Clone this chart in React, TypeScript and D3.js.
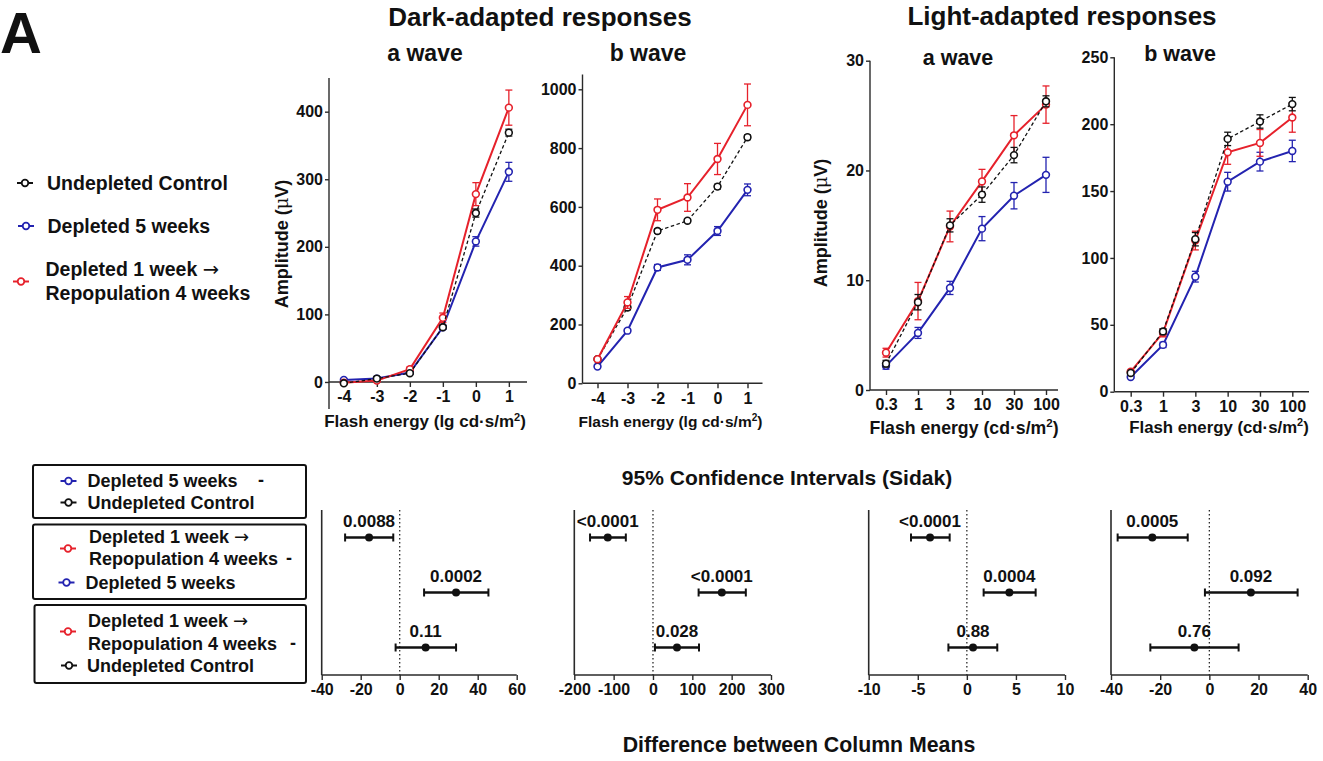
import React, { useEffect, useRef } from "react";
import * as d3 from "d3";

const FONT = "'Liberation Sans', Arial, Helvetica, sans-serif";
const RED = "#e6212b";
const BLUE = "#2323b0";
const INK = "#111111";
const AXIS = "#2a2a2a";

// flash energies on the x axes
const darkEnergy = [-4, -3, -2, -1, 0, 1];
const lightEnergy = ["0.3", "1", "3", "10", "30", "100"];

// dark-adapted a wave, mean and SEM (uV)
const darkA_control = [-2, 5, 13, 81, 250, 369];
const darkA_controlSem = [2, 2, 2, 3, 6, 5];
const darkA_depleted = [3, 5, 14, 81, 208, 311];
const darkA_depletedSem = [2, 2, 2, 3, 7, 14];
const darkA_repop = [-1, 2, 19, 95, 278, 406];
const darkA_repopSem = [2, 2, 3, 7, 17, 26];

// dark-adapted b wave
const darkB_control = [82, 258, 518, 553, 669, 837];
const darkB_controlSem = [6, 8, 8, 6, 8, 8];
const darkB_depleted = [57, 179, 394, 420, 518, 658];
const darkB_depletedSem = [5, 6, 10, 17, 15, 20];
const darkB_repop = [82, 275, 590, 632, 763, 947];
const darkB_repopSem = [6, 20, 37, 47, 53, 71];

// light-adapted a wave
const lightA_control = [2.4, 8.0, 15.0, 17.8, 21.4, 26.3];
const lightA_controlSem = [0.3, 0.7, 0.6, 0.7, 0.7, 0.5];
const lightA_depleted = [2.2, 5.2, 9.3, 14.7, 17.7, 19.6];
const lightA_depletedSem = [0.3, 0.5, 0.6, 1.1, 1.2, 1.6];
const lightA_repop = [3.4, 8.1, 14.9, 19.0, 23.2, 26.0];
const lightA_repopSem = [0.4, 1.7, 1.4, 1.1, 1.8, 1.7];

// light-adapted b wave
const lightB_control = [14, 45, 114, 189, 202, 215];
const lightB_controlSem = [1, 2, 5, 5, 5, 5];
const lightB_depleted = [11, 35, 86, 157, 172, 180];
const lightB_depletedSem = [1, 2, 4, 7, 7, 8];
const lightB_repop = [15, 44, 113, 179, 186, 205];
const lightB_repopSem = [1, 3, 7, 9, 10, 11];

// Sidak 95% CI of the differences, rows: 5wk-ctrl, repop-5wk, repop-ctrl
const ciDarkA_mean = [-15.7, 28.9, 13.3];
const ciDarkA_low = [-28, 12.5, -2.1];
const ciDarkA_high = [-3.3, 45.5, 28.9];
const ciDarkA_p = ["0.0088", "0.0002", "0.11"];

const ciDarkB_mean = [-115, 175, 61];
const ciDarkB_low = [-160, 116, 5];
const ciDarkB_high = [-69, 236, 117];
const ciDarkB_p = ["<0.0001", "<0.0001", "0.028"];

const ciLightA_mean = [-3.75, 4.33, 0.63];
const ciLightA_low = [-5.69, 1.71, -1.88];
const ciLightA_high = [-1.75, 7.01, 3.1];
const ciLightA_p = ["<0.0001", "0.0004", "0.88"];

const ciLightB_mean = [-23.2, 16.9, -6.1];
const ciLightB_low = [-37.3, -1.8, -24];
const ciLightB_high = [-8.8, 35.9, 11.9];
const ciLightB_p = ["0.0005", "0.092", "0.76"];

type Sel = d3.Selection<any, any, any, any>;
type Series = { values: number[]; sem: number[]; color: string; dashed?: boolean };

function txt(g: Sel, x: number, y: number, s: string, size: number, anchor = "middle") {
  return g
    .append("text")
    .attr("x", x)
    .attr("y", y)
    .attr("dy", "0.35em")
    .attr("text-anchor", anchor)
    .attr("font-family", FONT)
    .attr("font-weight", "bold")
    .attr("font-size", size)
    .attr("fill", INK)
    .text(s);
}

// "Depleted 1 week →" with the arrow taken from DejaVu (Liberation's is tiny)
function arrowTxt(g: Sel, x: number, y: number, size: number) {
  const t = txt(g, x, y, "", size, "start");
  t.append("tspan").text("Depleted 1 week ");
  t.append("tspan").attr("font-family", "'DejaVu Sans', sans-serif").attr("font-weight", "normal").text("→");
  return t;
}

// little line+open circle glyph used in the legends
function marker(g: Sel, cx: number, cy: number, color: string) {
  g.append("line")
    .attr("x1", cx - 8).attr("x2", cx + 8).attr("y1", cy).attr("y2", cy)
    .attr("stroke", color).attr("stroke-width", 2);
  g.append("circle")
    .attr("cx", cx).attr("cy", cy).attr("r", 3.3)
    .attr("fill", "#fff").attr("stroke", color).attr("stroke-width", 1.8);
}

function styleAxis(a: Sel, size: number) {
  a.select(".domain").remove();
  a.selectAll(".tick line").attr("stroke", AXIS).attr("stroke-width", 1.4);
  a.selectAll(".tick text")
    .attr("font-family", FONT)
    .attr("font-weight", "bold")
    .attr("font-size", size)
    .attr("fill", INK);
}

function linePanel(
  svg: Sel,
  xScale: any,
  xs: any[],
  xLine: [number, number],
  yScale: d3.ScaleLinear<number, number>,
  yTicks: number[],
  yLine: [number, number],
  series: Series[]
) {
  const g = svg.append("g");
  const y0 = yScale(0);

  g.append("line")
    .attr("x1", xLine[0]).attr("x2", xLine[0])
    .attr("y1", yScale(yLine[0])).attr("y2", yScale(yLine[1]))
    .attr("stroke", AXIS).attr("stroke-width", 1.4);
  g.append("line")
    .attr("x1", xLine[0]).attr("x2", xLine[1])
    .attr("y1", y0).attr("y2", y0)
    .attr("stroke", AXIS).attr("stroke-width", 1.4);

  g.append("g")
    .attr("transform", `translate(${xLine[0]},0)`)
    .call(d3.axisLeft(yScale).tickValues(yTicks).tickSize(4).tickPadding(2).tickFormat((d: any) => String(d)))
    .call((a: Sel) => styleAxis(a, 16));

  const xAxis = d3.axisBottom(xScale).tickSize(5).tickPadding(4).tickFormat((d: any) => String(d));
  if (xScale.ticks) (xAxis as any).tickValues(xs);
  g.append("g")
    .attr("transform", `translate(0,${y0})`)
    .call(xAxis as any)
    .call((a: Sel) => styleAxis(a, 16));

  const px = (i: number) => xScale(xs[i]);

  series.forEach((s) => {
    const line = d3
      .line<number>()
      .x((_, i) => px(i))
      .y((d) => yScale(d));
    g.append("path")
      .datum(s.values)
      .attr("d", line)
      .attr("fill", "none")
      .attr("stroke", s.dashed ? INK : s.color)
      .attr("stroke-width", s.dashed ? 1.3 : 2)
      .attr("stroke-dasharray", s.dashed ? "3.5,2.5" : null);

    const eb = g.append("g").attr("stroke", s.color).attr("stroke-width", 1.3);
    s.values.forEach((v, i) => {
      const x = px(i);
      const t = yScale(v + s.sem[i]);
      const b = yScale(v - s.sem[i]);
      eb.append("line").attr("x1", x).attr("x2", x).attr("y1", t).attr("y2", b);
      eb.append("line").attr("x1", x - 3.5).attr("x2", x + 3.5).attr("y1", t).attr("y2", t);
      eb.append("line").attr("x1", x - 3.5).attr("x2", x + 3.5).attr("y1", b).attr("y2", b);
    });

    g.append("g")
      .selectAll("circle")
      .data(s.values)
      .join("circle")
      .attr("cx", (_, i) => px(i))
      .attr("cy", (d) => yScale(d))
      .attr("r", 3.4)
      .attr("fill", "#fff")
      .attr("stroke", s.color)
      .attr("stroke-width", 1.6);
  });
}

function ciPanel(
  svg: Sel,
  xScale: d3.ScaleLinear<number, number>,
  xTicks: number[],
  mean: number[],
  low: number[],
  high: number[],
  p: string[]
) {
  const g = svg.append("g");
  const rows = d3.scaleBand<number>().domain([0, 1, 2]).range([510, 675]);
  const [x0, x1] = xScale.range();
  const yb = 675;

  g.append("line").attr("x1", x0).attr("x2", x0).attr("y1", 510).attr("y2", yb)
    .attr("stroke", AXIS).attr("stroke-width", 1.6);
  g.append("line").attr("x1", x0).attr("x2", x1).attr("y1", yb).attr("y2", yb)
    .attr("stroke", AXIS).attr("stroke-width", 1.6);
  g.append("line").attr("x1", xScale(0)).attr("x2", xScale(0)).attr("y1", 510).attr("y2", yb)
    .attr("stroke", AXIS).attr("stroke-width", 1.3).attr("stroke-dasharray", "1.5,2.5");

  g.append("g")
    .attr("transform", `translate(0,${yb})`)
    .call(d3.axisBottom(xScale).tickValues(xTicks).tickSize(5).tickPadding(4).tickFormat((d: any) => String(d)))
    .call((a: Sel) => styleAxis(a, 16));

  mean.forEach((m, i) => {
    const y = (rows(i) as number) + rows.bandwidth() / 2;
    g.append("line").attr("x1", xScale(low[i])).attr("x2", xScale(high[i])).attr("y1", y).attr("y2", y)
      .attr("stroke", INK).attr("stroke-width", 2.5);
    [low[i], high[i]].forEach((v) =>
      g.append("line").attr("x1", xScale(v)).attr("x2", xScale(v)).attr("y1", y - 4).attr("y2", y + 4)
        .attr("stroke", INK).attr("stroke-width", 2)
    );
    g.append("circle").attr("cx", xScale(m)).attr("cy", y).attr("r", 4).attr("fill", INK);
    txt(g, xScale(m), y - 16, p[i], 17);
  });
}

function flashLabel(svg: Sel, x: number, y: number, lg: boolean, size: number) {
  const t = txt(svg, x, y, "", size);
  t.append("tspan").text(lg ? "Flash energy (lg cd·s/m" : "Flash energy (cd·s/m");
  t.append("tspan").attr("font-size", size * 0.65).attr("dy", -size * 0.4).text("2");
  t.append("tspan").attr("dy", size * 0.4).text(")");
}

function ampLabel(svg: Sel, x: number, y: number) {
  const t = txt(svg, 0, 0, "", 18).attr("transform", `translate(${x},${y}) rotate(-90)`);
  t.append("tspan").text("Amplitude (");
  t.append("tspan").attr("font-weight", "normal").attr("font-family", "'DejaVu Serif', serif").text("μ");
  t.append("tspan").text("V)");
}

export default function App() {
  const svgRef = useRef<SVGSVGElement>(null);

  useEffect(() => {
    const svg = d3.select(svgRef.current);
    svg.selectAll("*").remove();

    // titles
    svg.append("text").attr("x", 0).attr("y", 53).attr("font-family", FONT)
      .attr("font-weight", "bold").attr("font-size", 58).attr("fill", INK).text("A");
    txt(svg, 540, 17, "Dark-adapted responses", 26);
    txt(svg, 1062, 16, "Light-adapted responses", 26);
    txt(svg, 425, 53, "a wave", 23);
    txt(svg, 648, 53, "b wave", 23);
    txt(svg, 958, 57, "a wave", 21.5);
    txt(svg, 1180, 53, "b wave", 21.5);

    // top legend
    const leg = svg.append("g");
    marker(leg, 25, 183, INK);
    txt(leg, 47, 183, "Undepleted Control", 19.5, "start");
    marker(leg, 26, 226, BLUE);
    txt(leg, 47.5, 226, "Depleted 5 weeks", 19.5, "start");
    marker(leg, 21, 281.5, RED);
    arrowTxt(leg, 45.5, 269, 19.5);
    txt(leg, 45.5, 293, "Repopulation 4 weeks", 19.5, "start");

    // dark a wave
    const x1 = d3.scaleLinear().domain([-4.45, 1.55]).range([329, 527]);
    const y1 = d3.scaleLinear().domain([-40, 450]).range([409, 77.9]);
    linePanel(svg, x1, darkEnergy, [329, 527], y1, [0, 100, 200, 300, 400], [-40, 450], [
      { values: darkA_depleted, sem: darkA_depletedSem, color: BLUE },
      { values: darkA_repop, sem: darkA_repopSem, color: RED },
      { values: darkA_control, sem: darkA_controlSem, color: INK, dashed: true },
    ]);
    ampLabel(svg, 282, 244);
    flashLabel(svg, 425, 421.5, true, 17);

    // dark b wave
    const x2 = d3.scaleLinear().domain([-4.5, 1.5]).range([582.5, 762.5]);
    const y2 = d3.scaleLinear().domain([0, 1050]).range([383.3, 74.6]);
    linePanel(svg, x2, darkEnergy, [582.5, 762.5], y2, [0, 200, 400, 600, 800, 1000], [0, 1050], [
      { values: darkB_depleted, sem: darkB_depletedSem, color: BLUE },
      { values: darkB_control, sem: darkB_controlSem, color: INK, dashed: true },
      { values: darkB_repop, sem: darkB_repopSem, color: RED },
    ]);
    flashLabel(svg, 670.5, 421.5, true, 15.5);

    // light a wave
    const x3 = d3.scalePoint<string>().domain(lightEnergy).range([886, 1046]);
    const y3 = d3.scaleLinear().domain([0, 30]).range([390, 60.7]);
    linePanel(svg, x3, lightEnergy, [870, 1058], y3, [0, 10, 20, 30], [0, 30], [
      { values: lightA_depleted, sem: lightA_depletedSem, color: BLUE },
      { values: lightA_repop, sem: lightA_repopSem, color: RED },
      { values: lightA_control, sem: lightA_controlSem, color: INK, dashed: true },
    ]);
    ampLabel(svg, 821, 223);
    flashLabel(svg, 964, 428, false, 17.7);

    // light b wave
    const x4 = d3.scalePoint<string>().domain(lightEnergy).range([1130.7, 1292.3]);
    const y4 = d3.scaleLinear().domain([0, 250]).range([391.7, 57.3]);
    linePanel(svg, x4, lightEnergy, [1114.3, 1309], y4, [0, 50, 100, 150, 200, 250], [0, 250], [
      { values: lightB_depleted, sem: lightB_depletedSem, color: BLUE },
      { values: lightB_repop, sem: lightB_repopSem, color: RED },
      { values: lightB_control, sem: lightB_controlSem, color: INK, dashed: true },
    ]);
    flashLabel(svg, 1219, 427, false, 16.8);

    // confidence interval panels
    txt(svg, 787, 478, "95% Confidence Intervals (Sidak)", 21);
    txt(svg, 799, 745, "Difference between Column Means", 21.3);
    ciPanel(svg, d3.scaleLinear().domain([-40, 60]).range([321.7, 516.7]), [-40, -20, 0, 20, 40, 60],
      ciDarkA_mean, ciDarkA_low, ciDarkA_high, ciDarkA_p);
    ciPanel(svg, d3.scaleLinear().domain([-200, 300]).range([574.3, 771]), [-200, -100, 0, 100, 200, 300],
      ciDarkB_mean, ciDarkB_low, ciDarkB_high, ciDarkB_p);
    ciPanel(svg, d3.scaleLinear().domain([-10, 10]).range([868.7, 1065]), [-10, -5, 0, 5, 10],
      ciLightA_mean, ciLightA_low, ciLightA_high, ciLightA_p);
    ciPanel(svg, d3.scaleLinear().domain([-40, 40]).range([1111, 1307.7]), [-40, -20, 0, 20, 40],
      ciLightB_mean, ciLightB_low, ciLightB_high, ciLightB_p);

    // comparison legend boxes
    const box = svg.append("g");
    const rect = (x: number, y: number, w: number, h: number) =>
      box.append("rect").attr("x", x).attr("y", y).attr("width", w).attr("height", h).attr("rx", 2)
        .attr("fill", "none").attr("stroke", INK).attr("stroke-width", 2);
    rect(33, 465, 273, 53);
    marker(box, 68.5, 481, BLUE);
    txt(box, 87.5, 481, "Depleted 5 weeks", 18, "start");
    txt(box, 258, 480, "-", 18, "start");
    marker(box, 68.5, 502.5, INK);
    txt(box, 87.5, 502.5, "Undepleted Control", 18, "start");

    rect(33, 524.5, 273, 74.5);
    arrowTxt(box, 89, 536.5, 18);
    txt(box, 89, 559, "Repopulation 4 weeks", 18, "start");
    txt(box, 286, 558, "-", 18, "start");
    marker(box, 68, 548.5, RED);
    marker(box, 66.5, 582.5, BLUE);
    txt(box, 85.5, 582.5, "Depleted 5 weeks", 18, "start");

    rect(34.5, 605, 271.5, 78);
    arrowTxt(box, 88, 621, 18);
    txt(box, 88, 643.5, "Repopulation 4 weeks", 18, "start");
    txt(box, 290, 642.5, "-", 18, "start");
    marker(box, 68, 631.5, RED);
    marker(box, 69, 665.5, INK);
    txt(box, 87, 665.5, "Undepleted Control", 18, "start");
  }, []);

  return (
    <div style={{ position: "absolute", left: 0, top: 0 }}>
      <svg ref={svgRef} width={1323} height={761} style={{ display: "block", background: "#fff" }} />
    </div>
  );
}
